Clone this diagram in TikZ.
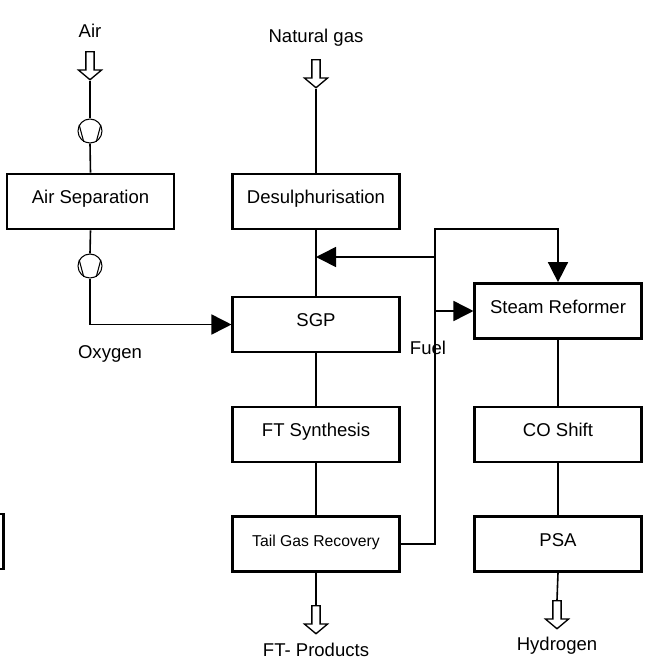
\documentclass[tikz,border=0pt]{standalone}
\usepackage{fontspec}
\setmainfont{Liberation Sans}
\usetikzlibrary{arrows.meta,shapes.arrows}

\begin{document}
\begin{tikzpicture}[x=0.75pt, y=-0.75pt,
		font=\fontsize{13.9}{16}\selectfont,
		unit/.style={draw, line width=1.8pt, minimum width=125pt, minimum height=41.5pt,
			inner sep=0pt, text height=10pt, text depth=6.5pt},
		pipe/.style={line width=1.2pt},
		flow/.style={pipe, -{Triangle[length=15pt, width=15pt]}},
		feed/.style={single arrow, draw, line width=1pt, shape border rotate=270,
			minimum height=21pt, inner sep=2.6pt, single arrow head extend=5.6pt,
			single arrow tip angle=100},
		comp/.style={circle, draw, line width=0.8pt, minimum size=18pt, inner sep=0pt}]
		\clip (0,0) rectangle (644,661);
		
		% Units
		\node[unit] (airsep) at (90.5,201.5) {Air Separation};
		\node[unit] (desulph) at (316,201.5) {Desulphurisation};
		\node[unit] (sgp) at (316,324.5) {SGP};
		\node[unit] (ftsyn) at (316,434.5) {FT Synthesis};
		\node[unit, font=\fontsize{11.8}{14}\selectfont] (tail) at (316,544) {Tail Gas Recovery};
		\node[unit] (reformer) at (558,311) {Steam Reformer};
		\node[unit] (coshift) at (558,434.5) {CO Shift};
		\node[unit] (psa) at (558,544) {PSA};
		\node[unit] (cut) at (-80,541.5) {};
		
		% Feeds and products
		\node (airtxt) at (90,31) {Air};
		\node[feed] (airin) at (90,64) {};
		\node (gastxt) at (316,38) {Natural gas};
		\node[feed] (gasin) at (316,72) {};
		\node[feed] (ftout) at (316,618) {};
		\node (fttxt) at (316,650) {FT- Products};
		\node[feed] (h2out) at (557,613) {};
		\node (h2txt) at (557,646) {Hydrogen};
		
		% Compressors
		\node[comp] (c1) at (90,131) {};
		\node[comp] (c2) at (90,266) {};
		\draw[line width=0.8pt] (c1.150) -- (c1.240) (c1.30) -- (c1.300);
		\draw[line width=0.8pt] (c2.150) -- (c2.240) (c2.30) -- (c2.300);
		
		% Air line
		\draw[pipe] (airin.tip) -- (c1.north);
		\draw[pipe] (c1.south) -- (airsep.north);
		\draw[pipe] (airsep.south) -- (c2.north);
		\draw[flow] (c2.south) |- (sgp.west);
		\node (o2txt) at (110,354) {Oxygen};
		
		% Main line
		\draw[pipe] (gasin.tip) -- (desulph.north);
		\draw[pipe] (desulph.south) -- (sgp.north);
		\draw[pipe] (sgp.south) -- (ftsyn.north);
		\draw[pipe] (ftsyn.south) -- (tail.north);
		\draw[pipe] (tail.south) -- (ftout.tail);
		
		% Tail gas recycle
		\coordinate (jt) at (435,229);
		\coordinate (mix) at (316,257);
		\draw[flow] (tail.east) -| (jt) -| (reformer.north);
		\draw[flow] (jt |- mix) -- (mix);
		\draw[flow] (jt |- reformer.west) -- (reformer.west);
		\node (fueltxt) at (428,348) {Fuel};
		
		% Hydrogen line
		\draw[pipe] (reformer.south) -- (coshift.north);
		\draw[pipe] (coshift.south) -- (psa.north);
		\draw[pipe] (psa.south) -- (h2out.tail);
	\end{tikzpicture}
\end{document}
